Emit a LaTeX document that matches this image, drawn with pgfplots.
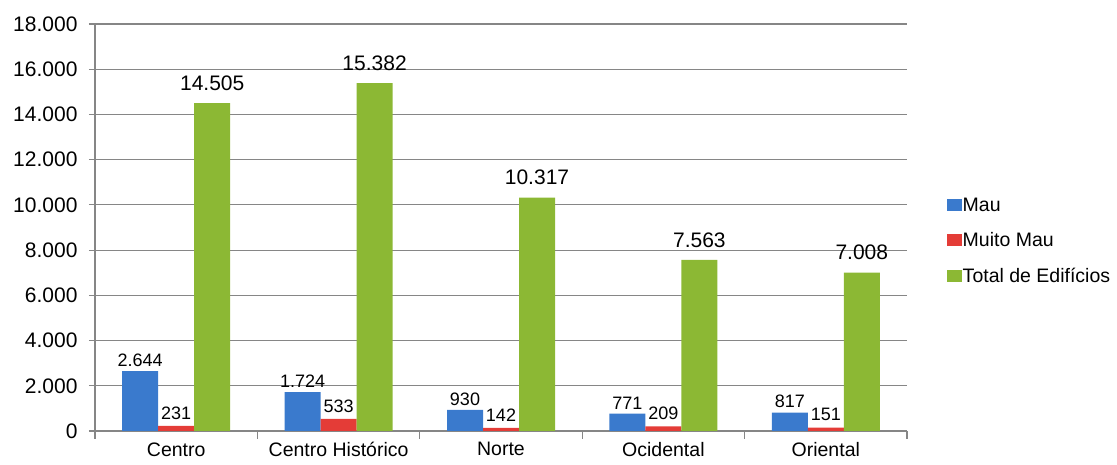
\documentclass[border=0pt]{standalone}
\usepackage{fontspec}
\setmainfont{Liberation Sans}
\usepackage{pgfplots}
\pgfplotsset{compat=1.18}
\definecolor{blueM}{RGB}{58,122,205}
\definecolor{redM}{RGB}{228,60,55}
\definecolor{greenM}{RGB}{140,184,52}
\definecolor{gridgray}{RGB}{134,134,134}
\begin{document}
\begin{tikzpicture}
\begin{axis}[
  at={(95pt,34pt)}, anchor=south west,
  scale only axis, width=812pt, height=407pt,
  ybar=0pt, bar width=36pt,
  xmin=-0.5, xmax=4.5, ymin=0, ymax=18000,
  ytick={0,2000,...,18000},
  xtick={0,...,4},
  xticklabels={Centro, Centro Histórico, Norte, Ocidental, Oriental},
  minor xtick={-0.5,0.5,...,4.5},
  major x tick style={draw=none},
  minor x tick style={gridgray, line width=1.2pt},
  minor tick length=8pt,
  major tick length=6pt,
  tick align=outside,
  ytick style={gridgray, line width=1.2pt},
  ymajorgrids, major grid style={gridgray, line width=1.2pt},
  axis x line*=bottom, axis y line*=left,
  axis line style={gridgray, line width=1.2pt},
  scaled y ticks=false,
  /pgf/number format/assume math mode=true,
  /pgf/number format/1000 sep={.},
  yticklabel style={font=\fontsize{21}{24}\selectfont, xshift=-8pt},
  xticklabel style={font=\fontsize{19.5}{23}\selectfont, yshift=-2pt},
  legend image code/.code={\path[#1,draw=none] (0pt,-6pt) rectangle (15pt,6pt);},
  legend style={draw=none, fill=none, at={(1.045,0.467)}, anchor=west,
    font=\fontsize{19.5}{23}\selectfont, row sep=16pt, nodes={inner xsep=1pt}},
  legend cell align=left,
  nodes near coords,
  every node near coord/.append style={black},
]
\addplot[draw=none, fill=blueM,
  every node near coord/.append style={font=\fontsize{18}{21}\selectfont, yshift=1pt}]
  coordinates {(0,2644) (1,1724) (2,930) (3,771) (4,817)};
\addplot[draw=none, fill=redM,
  every node near coord/.append style={font=\fontsize{18}{21}\selectfont, yshift=3pt}]
  coordinates {(0,231) (1,533) (2,142) (3,209) (4,151)};
\addplot[draw=none, fill=greenM,
  every node near coord/.append style={font=\fontsize{21}{25}\selectfont, yshift=9pt}]
  coordinates {(0,14505) (1,15382) (2,10317) (3,7563) (4,7008)};
\legend{Mau, Muito Mau, Total de Edifícios}
\end{axis}
\pgfresetboundingbox
\path[use as bounding box] (0,0) rectangle (1117pt,465pt);
\end{tikzpicture}
\end{document}
